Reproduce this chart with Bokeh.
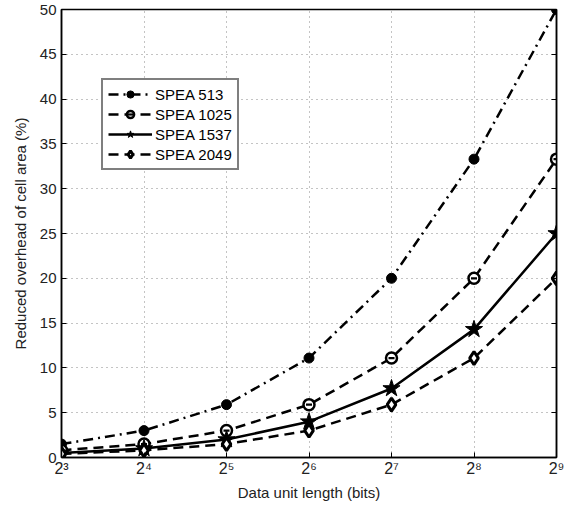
from bokeh.plotting import figure
from bokeh.models import (FixedTicker, LinearAxis, Legend, LegendItem, Range1d)
from bokeh.embed import file_html
from bokeh.resources import INLINE

bits = [8, 16, 32, 64, 128, 256, 512]
tick_labels = {8: "2³", 16: "2⁴", 32: "2⁵", 64: "2⁶", 128: "2⁷", 256: "2⁸", 512: "2⁹"}
spea_513 = [1.5, 3.0, 5.9, 11.1, 20.0, 33.3, 50.0]
spea_1025 = [0.8, 1.5, 3.0, 5.9, 11.1, 20.0, 33.3]
spea_1537 = [0.5, 1.0, 2.0, 4.0, 7.7, 14.3, 25.0]
spea_2049 = [0.4, 0.8, 1.5, 3.0, 5.9, 11.1, 20.0]
y_ticks = list(range(0, 51, 5))

FONT = "Liberation Sans"

p = figure(x_axis_type="log", x_range=Range1d(8, 512), y_range=Range1d(0, 50),
           frame_width=495, frame_height=448,
           min_border_left=61, min_border_top=9, min_border_right=19, min_border_bottom=38,
           output_backend="svg", toolbar_location=None)
p.outline_line_color = "black"
p.outline_line_width = 1.5
p.background_fill_color = "white"
p.border_fill_color = "white"

p.xaxis.ticker = FixedTicker(ticks=bits)
p.xaxis.major_label_overrides = tick_labels
p.yaxis.ticker = FixedTicker(ticks=y_ticks)
p.xaxis.axis_label = "Data unit length (bits)"
p.yaxis.axis_label = "Reduced overhead of cell area (%)"

for ax in (p.xaxis[0], p.yaxis[0]):
    ax.major_tick_in = 5
    ax.major_tick_out = 0
    ax.minor_tick_in = 0
    ax.minor_tick_out = 0
    ax.axis_line_width = 1.5
    ax.major_label_text_font = FONT
    ax.major_label_text_font_size = "15px"
    ax.major_label_text_color = "#222222"
    ax.axis_label_text_font = FONT
    ax.axis_label_text_font_size = "15px"
    ax.axis_label_text_font_style = "normal"
    ax.axis_label_text_color = "#222222"
p.xaxis.major_label_text_font_size = "16px"
p.xaxis.major_label_standoff = 2
p.xaxis.axis_label_standoff = 4
p.yaxis.major_label_standoff = 5
p.yaxis.axis_label_standoff = 8

right = LinearAxis(ticker=FixedTicker(ticks=y_ticks), major_label_text_font_size="0px",
                   major_tick_in=5, major_tick_out=0, minor_tick_in=0, minor_tick_out=0,
                   axis_line_width=1.5)
right.major_label_text_color = None
p.add_layout(right, "right")

p.xgrid.ticker = FixedTicker(ticks=bits)
p.ygrid.ticker = FixedTicker(ticks=y_ticks)
for g in (p.xgrid[0], p.ygrid[0]):
    g.grid_line_color = "#888888"
    g.grid_line_dash = "1 4"
    g.grid_line_width = 1

items = []
l1 = p.line(bits, spea_513, line_color="black", line_width=2.5, line_dash="10 5 2 5")
m1 = p.scatter(bits, spea_513, marker="circle", size=10, fill_color="black", line_color="black")
items.append(LegendItem(label="SPEA 513", renderers=[l1, m1]))

l2 = p.line(bits, spea_1025, line_color="black", line_width=2.5, line_dash="10 6")
m2 = p.scatter(bits, spea_1025, marker="circle", size=11, fill_color="white", line_color="black", line_width=2.5)
m2b = p.scatter(bits, spea_1025, marker="dash", size=6, line_color="black", line_width=2.2)
items.append(LegendItem(label="SPEA 1025", renderers=[l2, m2, m2b]))

l3 = p.line(bits, spea_1537, line_color="black", line_width=2.5)
m3 = p.scatter(bits, spea_1537, marker="star", size=18, fill_color="black", line_color="black")
items.append(LegendItem(label="SPEA 1537", renderers=[l3, m3]))

l4 = p.line(bits, spea_2049, line_color="black", line_width=2.5, line_dash="10 6")
m4 = p.scatter(bits, spea_2049, marker="diamond", size=13, fill_color="white", line_color="black", line_width=3)
items.append(LegendItem(label="SPEA 2049", renderers=[l4, m4]))

legend = Legend(items=items, location=(40, 287), orientation="vertical")
legend.label_text_font = FONT
legend.label_text_font_size = "15px"
legend.label_text_color = "black"
legend.border_line_color = "black"
legend.border_line_width = 2
legend.background_fill_alpha = 1
legend.glyph_width = 44
legend.glyph_height = 18
legend.label_standoff = 3
legend.label_height = 18
legend.spacing = 2
legend.padding = 5
legend.margin = 0
p.add_layout(legend, "center")

open("out.html", "w").write(file_html(p, INLINE))
